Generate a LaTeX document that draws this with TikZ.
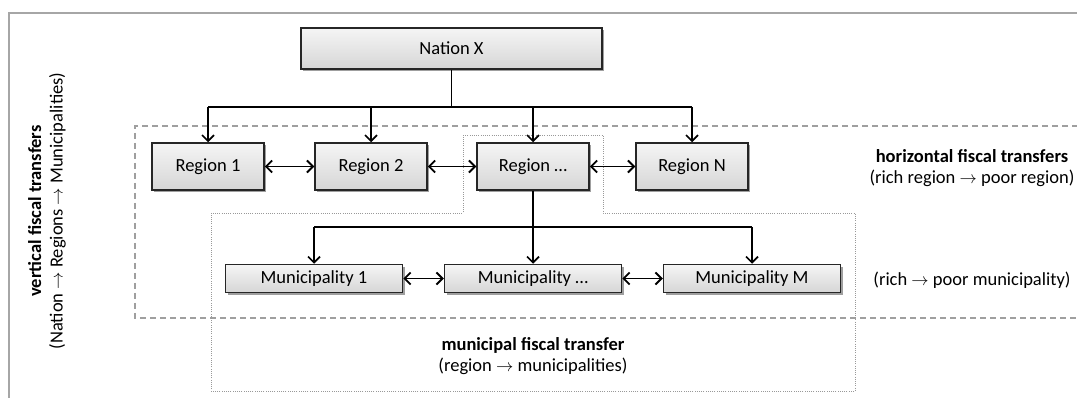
\documentclass[tikz,border=0pt]{standalone}
\usepackage{fontspec}
\setmainfont{Carlito}
\usetikzlibrary{arrows.meta,shadows}
\begin{document}
\begin{tikzpicture}[x=1pt,y=-1pt,
  font=\fontsize{18.5}{21.5}\selectfont,
  box/.style={draw=black!85, line width=1.5pt, top color=gray!8, bottom color=gray!32,
    inner sep=0pt, drop shadow={shadow xshift=2pt, shadow yshift=-2.5pt, fill=gray!75, opacity=1}},
  conn/.style={line width=1.7pt, -{Straight Barb[length=6pt,width=12pt,line width=1.7pt]}},
  dconn/.style={line width=1.5pt, {Straight Barb[length=6pt,width=12pt,line width=1.9pt]}-{Straight Barb[length=6pt,width=12pt,line width=1.9pt]}},
  plain/.style={line width=1.7pt},
  frame/.style={draw=gray!70, line width=1.5pt},
  dashbox/.style={draw=gray!75, line width=1.4pt, dash pattern=on 6pt off 4pt},
  dotbox/.style={draw=gray!80, line width=0.8pt, dash pattern=on 1pt off 1.2pt},
  lbl/.style={align=center, inner sep=0pt}
]
\useasboundingbox (0,0) rectangle (1077,398);
% outer frame (top and left)
\draw[frame] (1078,13) -- (9,13) -- (9,399);
% dashed horizontal region
\draw[dashbox] (1078,126) -- (135,126) -- (135,318) -- (1078,318);
% dotted municipal region
\draw[dotbox] (463,135) -- (603,135) -- (603,213) -- (855,213) -- (855,391) -- (211,391) -- (211,213) -- (463,213) -- cycle;

% nodes
\node[box, minimum width=301pt, minimum height=41pt] (nat) at (451.5,48.5) {Nation X};
\node[box, minimum width=112pt, minimum height=47pt] (r1) at (208,166.5) {Region 1};
\node[box, minimum width=112pt, minimum height=47pt] (r2) at (371,166.5) {Region 2};
\node[box, minimum width=112pt, minimum height=47pt] (rd) at (533,166.5) {Region \dots};
\node[box, minimum width=112pt, minimum height=47pt] (rn) at (692,166.5) {Region N};
\node[box, minimum width=177pt, minimum height=28pt] (m1) at (314,278.5) {Municipality 1};
\node[box, minimum width=177pt, minimum height=28pt] (md) at (533,278.5) {Municipality \dots};
\node[box, minimum width=177pt, minimum height=28pt] (mm) at (752,278.5) {Municipality M};

% tree connectors from nation
\coordinate (nb) at (451.5,107);
\draw[plain] (nat.south) -- (nb);
\draw[plain] (r1.north |- nb) -- (rn.north |- nb);
\draw[conn] (r1.north |- nb) -- (r1.north);
\draw[conn] (r2.north |- nb) -- (r2.north);
\draw[conn] (rd.north |- nb) -- (rd.north);
\draw[conn] (rn.north |- nb) -- (rn.north);

% region to municipalities
\coordinate (rb) at (533,227);
\draw[plain] (rd.south) -- (rb);
\draw[plain] (m1.north |- rb) -- (mm.north |- rb);
\draw[conn] (m1.north |- rb) -- (m1.north);
\draw[conn] (md.north |- rb) -- (md.north);
\draw[conn] (mm.north |- rb) -- (mm.north);

% horizontal double arrows
\draw[dconn] (r1.east) -- (r2.west);
\draw[dconn] (r2.east) -- (rd.west);
\draw[dconn] (rd.east) -- (rn.west);
\draw[dconn] (m1.east) -- (md.west);
\draw[dconn] (md.east) -- (mm.west);

% labels
\node[lbl] (hl) at (972,168) {\textbf{horizontal fiscal transfers}\\(rich region $\rightarrow$ poor region)};
\node[lbl] (ml) at (972,280) {(rich $\rightarrow$ poor municipality)};
\node[lbl] (mt) at (533,356) {\textbf{municipal fiscal transfer}\\(region $\rightarrow$ municipalities)};
\node[lbl, rotate=90] (vt) at (47,211) {\textbf{vertical fiscal transfers}\\(Nation $\rightarrow$ Regions $\rightarrow$ Municipalities)};
\end{tikzpicture}
\end{document}
